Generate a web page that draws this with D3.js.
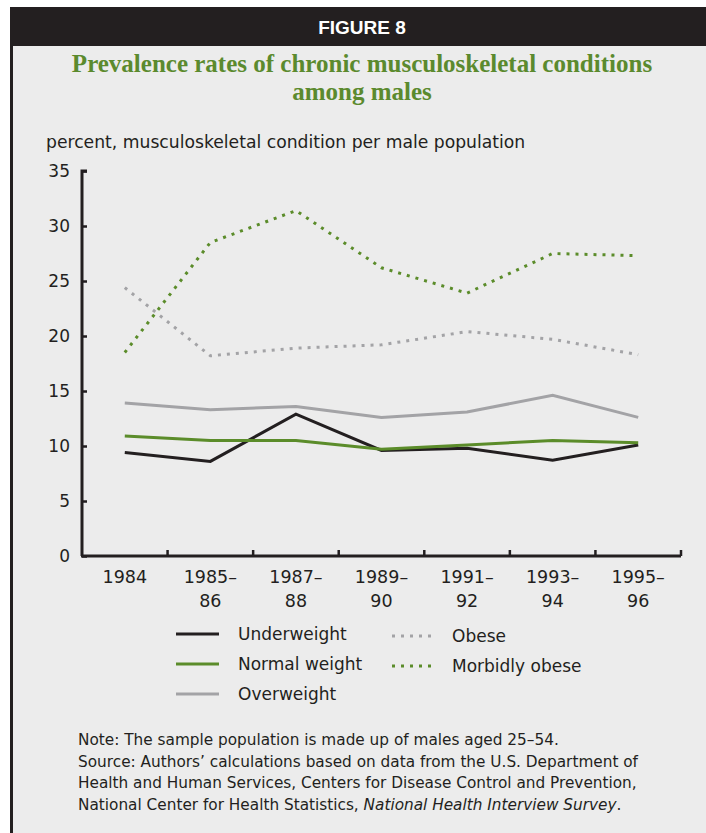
<!DOCTYPE html>
<html><head><meta charset="utf-8">
<script src="https://cdn.jsdelivr.net/npm/d3@7"></script>
<style>body{margin:0;background:#fff}svg{display:block}</style>
</head><body>
<script>
const categories = [["1984"],["1985–","86"],["1987–","88"],["1989–","90"],["1991–","92"],["1993–","94"],["1995–","96"]];
const catKeys = ["1984","1985–86","1987–88","1989–90","1991–92","1993–94","1995–96"];
const underweight   = [9.4, 8.6, 12.9, 9.6, 9.8, 8.7, 10.1];
const normalWeight  = [10.9, 10.5, 10.5, 9.7, 10.1, 10.5, 10.3];
const overweight    = [13.9, 13.3, 13.6, 12.6, 13.1, 14.6, 12.6];
const obese         = [24.4, 18.2, 18.9, 19.2, 20.4, 19.7, 18.3];
const morbidlyObese = [18.5, 28.5, 31.4, 26.2, 23.9, 27.5, 27.3];
const yTicks = [0,5,10,15,20,25,30,35];

const series = [
  {name:"Underweight", values:underweight, color:"#231f20", dash:null},
  {name:"Normal weight", values:normalWeight, color:"#5b8c2a", dash:null},
  {name:"Overweight", values:overweight, color:"#a3a3a6", dash:null},
  {name:"Obese", values:obese, color:"#a3a3a6", dash:"3,6"},
  {name:"Morbidly obese", values:morbidlyObese, color:"#5b8c2a", dash:"3,6"}
];

const W=706,H=833;
const svg=d3.select("body").append("svg").attr("width",W).attr("height",H);
svg.append("rect").attr("width",W).attr("height",H).attr("fill","#fff");
svg.append("rect").attr("x",10).attr("y",46).attr("width",W-10).attr("height",H-46).attr("fill","#ececec");
svg.append("rect").attr("x",10).attr("y",7).attr("width",W-10).attr("height",39).attr("fill","#231f20");
svg.append("rect").attr("x",10).attr("y",7).attr("width",3).attr("height",H-7).attr("fill","#231f20");

const cx=362;
svg.append("text").attr("x",cx).attr("y",34).attr("text-anchor","middle")
  .attr("font-family","'Liberation Sans Narrow','Liberation Sans',Arial,sans-serif").attr("font-weight","bold")
  .attr("font-size",19).attr("fill","#fff").text("FIGURE 8");
const tFont="'Liberation Serif','Times New Roman',serif";
svg.append("text").attr("x",cx).attr("y",72).attr("text-anchor","middle").attr("font-family",tFont)
  .attr("font-weight","bold").attr("font-size",25).attr("fill","#5b8a2e")
  .text("Prevalence rates of chronic musculoskeletal conditions");
svg.append("text").attr("x",cx).attr("y",100).attr("text-anchor","middle").attr("font-family",tFont)
  .attr("font-weight","bold").attr("font-size",25).attr("fill","#5b8a2e").text("among males");

const sFont="'DejaVu Sans',sans-serif";
svg.append("text").attr("x",46).attr("y",148).attr("font-family",sFont).attr("font-size",17.2)
  .attr("fill","#231f20").text("percent, musculoskeletal condition per male population");

const x=d3.scaleBand().domain(catKeys).range([82,681]);
const y=d3.scaleLinear().domain([0,35]).range([556,171]);

// y axis
const ya=svg.append("g").attr("transform","translate(82,0)")
  .call(d3.axisRight(y).tickValues(yTicks).tickSize(5).tickFormat(""));
ya.select(".domain").attr("stroke","#231f20").attr("stroke-width",3).attr("d","M5,171H0V556");
ya.selectAll(".tick line").attr("stroke","#231f20").attr("stroke-width",2.5);
svg.append("g").selectAll("text").data(yTicks).join("text")
  .attr("x",70).attr("y",d=>y(d)+6).attr("text-anchor","end").attr("font-family",sFont)
  .attr("font-size",17).attr("fill","#231f20").text(d=>d);

// x axis
const bounds=catKeys.map(k=>x(k)+x.bandwidth());
const xa=svg.append("g").attr("transform","translate(0,556)");
xa.append("path").attr("d",`M81,0H${x.range()[1]}`).attr("stroke","#231f20").attr("stroke-width",3);
xa.selectAll("line").data(bounds).join("line").attr("x1",d=>d).attr("x2",d=>d).attr("y1",0).attr("y2",-6)
  .attr("stroke","#231f20").attr("stroke-width",2.5);
const xl=svg.append("g").selectAll("text").data(categories).join("text")
  .attr("x",(d,i)=>x(catKeys[i])+x.bandwidth()/2).attr("y",583).attr("text-anchor","middle")
  .attr("font-family",sFont).attr("font-size",17.5).attr("fill","#231f20");
xl.each(function(d){const t=d3.select(this);const cxx=t.attr("x");
  d.forEach((s,j)=>t.append("tspan").attr("x",cxx).attr("dy",j?24:0).text(s));});

// lines
const line=d3.line().x((d,i)=>x(catKeys[i])+x.bandwidth()/2).y(d=>y(d));
const drawOrder=[2,0,1,3,4];
drawOrder.forEach(i=>{const s=series[i];
  svg.append("path").datum(s.values).attr("d",line).attr("fill","none").attr("stroke",s.color)
    .attr("stroke-width",3).attr("stroke-dasharray",s.dash).attr("stroke-linejoin","miter");
});

// legend
const leg=[{s:0,x:176,y:634},{s:1,x:176,y:664},{s:2,x:176,y:694},{s:3,x:392,y:636},{s:4,x:392,y:666}];
leg.forEach(l=>{const s=series[l.s];
  svg.append("line").attr("x1",l.x).attr("x2",l.x+43).attr("y1",l.y).attr("y2",l.y).attr("stroke",s.color)
    .attr("stroke-width",3).attr("stroke-dasharray",s.dash);
  svg.append("text").attr("x",l.x+(s.dash?60:62)).attr("y",l.y+6).attr("font-family",sFont).attr("font-size",17)
    .attr("fill","#231f20").text(s.name);
});

// notes
const notes=[["Note: The sample population is made up of males aged 25–54."],
  ["Source: Authors’ calculations based on data from the U.S. Department of"],
  ["Health and Human Services, Centers for Disease Control and Prevention,"],
  ["National Center for Health Statistics, ", "National Health Interview Survey", "."]];
notes.forEach((n,i)=>{const t=svg.append("text").attr("x",78).attr("y",745+i*21.7).attr("font-family",sFont)
  .attr("font-size",15.3).attr("fill","#231f20");
  n.forEach((p,j)=>t.append("tspan").attr("font-style",j===1?"italic":null).text(p));});
</script>
</body></html>
